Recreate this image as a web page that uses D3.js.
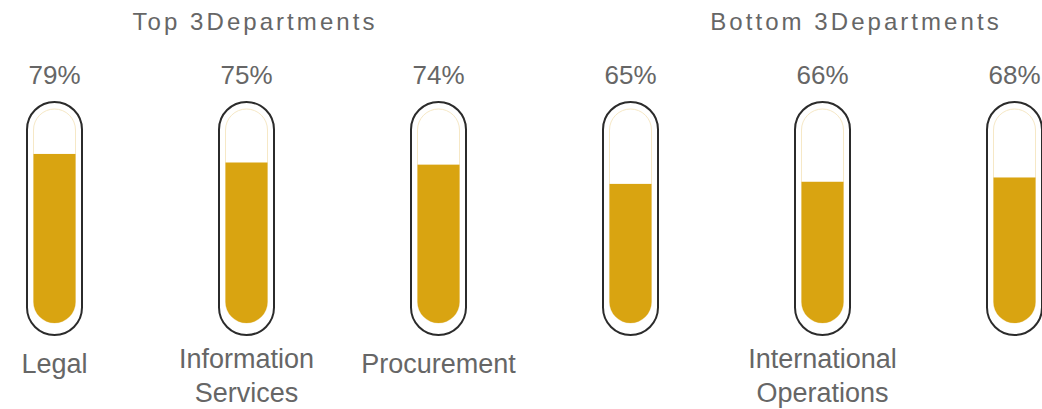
<!DOCTYPE html>
<html>
<head>
<meta charset="utf-8">
<script src="https://cdn.jsdelivr.net/npm/d3@7"></script>
<style>
  html, body { margin: 0; padding: 0; background: #fff; }
  svg { display: block; }
  text { font-family: "Liberation Sans", Arial, sans-serif; fill: #666; }
</style>
</head>
<body>
<svg id="chart" width="1042" height="409"></svg>
<script>
// Data
const departments = ["Legal", "Information Services", "Procurement", "", "International Operations", ""];
const values = [79, 75, 74, 65, 66, 68];
const groupTitles = ["Top 3Departments", "Bottom 3Departments"];
const groupTitleX = [255, 856];

const svg = d3.select("#chart");

const x = d3.scalePoint().domain(d3.range(values.length)).range([54.5, 1014.5]);
const y = d3.scaleLinear().domain([0, 100]).range([323, 109]);

const outerW = 55, outerTop = 102, outerBottom = 335;
const innerW = 42;
const fillColor = "#D9A411";

const defs = svg.append("defs");

// titles
svg.selectAll("text.title").data(groupTitles).enter().append("text")
  .attr("class", "title")
  .attr("x", (d, i) => groupTitleX[i])
  .attr("y", 30)
  .attr("text-anchor", "middle")
  .style("font-size", "24px")
  .style("letter-spacing", "3.05px")
  .text(d => d);

const g = svg.selectAll("g.tube").data(values).enter().append("g")
  .attr("class", "tube");

// clip for inner tube
g.each(function(d, i) {
  defs.append("clipPath").attr("id", "clip" + i)
    .append("rect")
    .attr("x", x(i) - innerW / 2)
    .attr("y", y(100))
    .attr("width", innerW)
    .attr("height", y(0) - y(100))
    .attr("rx", innerW / 2).attr("ry", innerW / 2);
});

// outer pill
g.append("rect")
  .attr("x", (d, i) => x(i) - outerW / 2)
  .attr("y", outerTop)
  .attr("width", outerW)
  .attr("height", outerBottom - outerTop)
  .attr("rx", outerW / 2).attr("ry", outerW / 2)
  .attr("fill", "#fff")
  .attr("stroke", "#2b2b2b")
  .attr("stroke-width", 2);

// inner faint outline
g.append("rect")
  .attr("x", (d, i) => x(i) - innerW / 2)
  .attr("y", y(100))
  .attr("width", innerW)
  .attr("height", y(0) - y(100))
  .attr("rx", innerW / 2).attr("ry", innerW / 2)
  .attr("fill", "none")
  .attr("stroke", "#f6e8c6")
  .attr("stroke-width", 1);

// fill
g.append("rect")
  .attr("clip-path", (d, i) => "url(#clip" + i + ")")
  .attr("x", (d, i) => x(i) - innerW / 2 - 1)
  .attr("y", d => y(d))
  .attr("width", innerW + 2)
  .attr("height", d => y(0) - y(d) + 2)
  .attr("fill", fillColor);

// percent labels
g.append("text")
  .attr("x", (d, i) => x(i))
  .attr("y", 84)
  .attr("text-anchor", "middle")
  .style("font-size", "26px")
  .text(d => d + "%");

// category labels
const lines = departments.map(d => d ? d.split(" ") : []);
g.append("text")
  .attr("text-anchor", "middle")
  .style("font-size", "27px")
  .each(function(d, i) {
    const t = d3.select(this);
    const ls = lines[i];
    const base = ls.length > 1 ? 368 : 373;
    ls.forEach((l, k) => {
      t.append("tspan").attr("x", x(i)).attr("y", base + k * 34).text(l);
    });
  });
</script>
</body>
</html>
